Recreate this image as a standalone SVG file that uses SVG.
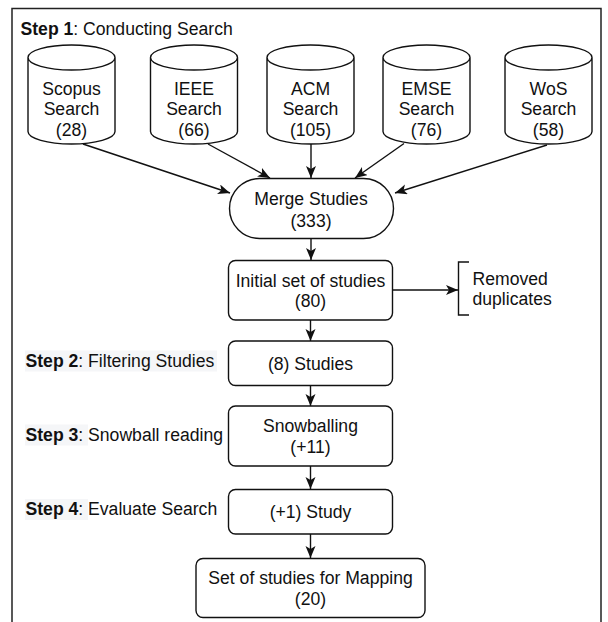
<svg xmlns="http://www.w3.org/2000/svg" width="608" height="622" viewBox="0 0 608 622">
<style>
  text { font-family: "Liberation Sans", Arial, sans-serif; font-size: 17.6px; fill: #111; }
  .c { text-anchor: middle; }
  .b { font-weight: bold; }
  .shape { fill: #fff; stroke: #111; stroke-width: 1.4; }
  .edge { fill: none; stroke: #111; stroke-width: 1.4; marker-end: url(#arr); }
  .hl { fill: #f5f6f8; }
</style>
<defs>
  <marker id="arr" markerUnits="userSpaceOnUse" markerWidth="14" markerHeight="12" refX="12" refY="5" orient="auto">
    <path d="M0,0 L12,5 L0,10 L3,5 Z" fill="#111"/>
  </marker>
  <path id="cyl" d="M0,57.5 A43.5,12.5 0 0 1 87,57.5 L87,131.5 A43.5,12.5 0 0 1 0,131.5 Z M0,57.5 A43.5,12.5 0 0 0 87,57.5"/>
</defs>
<rect width="608" height="622" fill="#fff"/>
<path d="M12,630 L12,8.5 L601,8.5 L601,630" fill="none" stroke="#222" stroke-width="1.5"/>

<g id="step1"><text x="20.5" y="35"><tspan class="b">Step 1</tspan>: Conducting Search</text></g>

<g id="scopus"><use href="#cyl" x="28" class="shape"/><text class="c" x="71.5" y="94.5">Scopus</text><text class="c" x="71.5" y="115">Search</text><text class="c" x="71.5" y="135.5">(28)</text></g>
<g id="ieee"><use href="#cyl" x="150.5" class="shape"/><text class="c" x="194" y="94.5">IEEE</text><text class="c" x="194" y="115">Search</text><text class="c" x="194" y="135.5">(66)</text></g>
<g id="acm"><use href="#cyl" x="267" class="shape"/><text class="c" x="310.5" y="94.5">ACM</text><text class="c" x="310.5" y="115">Search</text><text class="c" x="310.5" y="135.5">(105)</text></g>
<g id="emse"><use href="#cyl" x="383" class="shape"/><text class="c" x="426.5" y="94.5">EMSE</text><text class="c" x="426.5" y="115">Search</text><text class="c" x="426.5" y="135.5">(76)</text></g>
<g id="wos"><use href="#cyl" x="505" class="shape"/><text class="c" x="548.5" y="94.5">WoS</text><text class="c" x="548.5" y="115">Search</text><text class="c" x="548.5" y="135.5">(58)</text></g>

<g id="merge"><rect class="shape" x="229.5" y="178.5" width="164" height="60" rx="30"/><text class="c" x="311" y="205">Merge Studies</text><text class="c" x="311" y="226.5">(333)</text></g>
<g id="initial"><rect class="shape" x="228.5" y="260.5" width="164" height="59.5" rx="7"/><text class="c" x="310.5" y="287">Initial set of studies</text><text class="c" x="310.5" y="307">(80)</text></g>
<g id="removed"><path d="M469,262 L458.5,262 L458.5,315 L469,315" fill="none" stroke="#111" stroke-width="1.4"/><text x="472.5" y="285">Removed</text><text x="472.5" y="305">duplicates</text></g>

<g id="step2"><rect class="hl" x="25" y="350.5" width="192" height="21"/><text x="25.5" y="366.5"><tspan class="b">Step 2</tspan>: Filtering Studies</text></g>
<g id="studies8"><rect class="shape" x="228.5" y="341" width="164" height="44.5" rx="7"/><text class="c" x="310.5" y="369.5">(8) Studies</text></g>

<g id="step3"><rect class="hl" x="25" y="424.5" width="63" height="21"/><text x="25.5" y="440.5"><tspan class="b">Step 3</tspan>: Snowball reading</text></g>
<g id="snowball"><rect class="shape" x="228.5" y="406" width="164" height="60" rx="7"/><text class="c" x="310.5" y="432">Snowballing</text><text class="c" x="310.5" y="452.5">(+11)</text></g>

<g id="step4"><rect class="hl" x="25" y="499" width="63" height="21"/><text x="25.5" y="515"><tspan class="b">Step 4</tspan>: Evaluate Search</text></g>
<g id="study1"><rect class="shape" x="228.5" y="489.5" width="164" height="44.5" rx="7"/><text class="c" x="310.5" y="517.5">(+1) Study</text></g>

<g id="final"><rect class="shape" x="196" y="558.5" width="229" height="59" rx="7"/><text class="c" x="310.5" y="583.5">Set of studies for Mapping</text><text class="c" x="310.5" y="605">(20)</text></g>

<g id="connectors">
  <path class="edge" d="M83,144 L230,193"/>
  <path class="edge" d="M208,144 L270,178"/>
  <path class="edge" d="M311,144 L311,178"/>
  <path class="edge" d="M404,143.5 L355,178"/>
  <path class="edge" d="M547,145 L395,193"/>
  <path class="edge" d="M311,238.5 L311,260"/>
  <path class="edge" d="M392.5,290 L458,290"/>
  <path class="edge" d="M310.5,320 L310.5,341"/>
  <path class="edge" d="M310.5,385.5 L310.5,406"/>
  <path class="edge" d="M310.5,466 L310.5,489"/>
  <path class="edge" d="M310.5,534 L310.5,558"/>
</g>
</svg>
